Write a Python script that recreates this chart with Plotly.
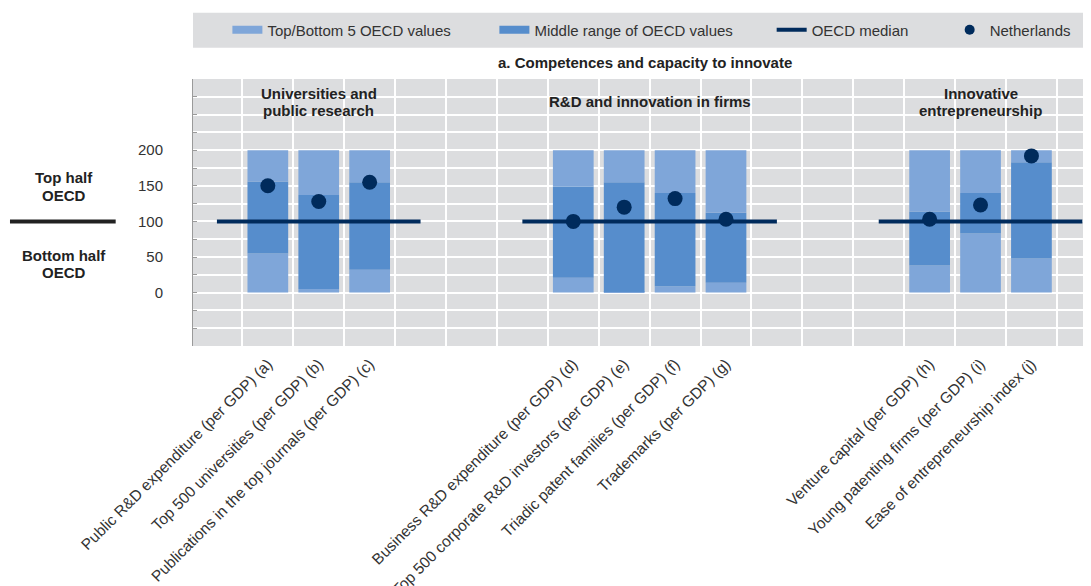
import plotly.graph_objects as go

# ---------------- data ----------------
indicators = [
    "Public R&D expenditure (per GDP) (a)",
    "Top 500 universities (per GDP) (b)",
    "Publications in the top journals (per GDP) (c)",
    "Business R&D expenditure (per GDP) (d)",
    "Top 500 corporate R&D investors (per GDP) (e)",
    "Triadic patent families (per GDP) (f)",
    "Trademarks (per GDP) (g)",
    "Venture capital (per GDP) (h)",
    "Young patenting firms (per GDP) (i)",
    "Ease of entrepreneurship index (j)",
]
group_names = ["Universities and<br>public research",
               "R&D and innovation in firms",
               "Innovative<br>entrepreneurship"]
group_sizes = [3, 4, 3]

scale_min = 0      # bottom of the Top/Bottom 5 range
scale_max = 200    # top of the Top/Bottom 5 range
mid_low = [55, 5, 32, 21, 1, 9, 14, 38, 83, 48]
mid_high = [156, 137, 155, 149, 155, 140, 112, 114, 140, 183]
netherlands = [150, 128, 155, 100, 120, 132, 103, 103, 123, 192]
oecd_median = 100

y_ticks = [0, 50, 100, 150, 200]

# ---------------- styling ----------------
LIGHT = "#7FA6D9"
MID = "#568DCC"
NAVY = "#002B5C"
BG = "#DCDDDF"
TXT = "#222222"
FONT = "Liberation Sans, Arial, sans-serif"
LINE_H = 17.5

GAP = 3
positions, spans = [], []
pos = 1
for size in group_sizes:
    positions.extend(range(pos, pos + size))
    spans.append((pos, pos + size - 1))
    pos += size + GAP

fig = go.Figure()

low_len = [l - scale_min for l in mid_low]
mid_len = [h - l for l, h in zip(mid_low, mid_high)]
top_len = [scale_max - h for h in mid_high]

fig.add_bar(x=positions, y=low_len, base=[scale_min] * len(positions), width=0.8,
            marker=dict(color=LIGHT, line=dict(width=0)), showlegend=False, hoverinfo="skip")
fig.add_bar(x=positions, y=mid_len, base=mid_low, width=0.8,
            marker=dict(color=MID, line=dict(width=0)), showlegend=False, hoverinfo="skip")
fig.add_bar(x=positions, y=top_len, base=mid_high, width=0.8,
            marker=dict(color=LIGHT, line=dict(width=0)), showlegend=False, hoverinfo="skip")

for (s, e) in spans:
    fig.add_trace(go.Scatter(x=[s - 1, e + 1], y=[oecd_median, oecd_median], mode="lines",
                             line=dict(color=NAVY, width=4), showlegend=False, hoverinfo="skip"))

fig.add_trace(go.Scatter(x=positions, y=netherlands, mode="markers",
                         marker=dict(color=NAVY, size=15), showlegend=False))

# legend-only entries
fig.add_trace(go.Scatter(x=[None], y=[None], mode="lines", line=dict(color=LIGHT, width=8),
                         name="Top/Bottom 5 OECD values", legendwidth=222, legend="legend"))
fig.add_trace(go.Scatter(x=[None], y=[None], mode="lines", line=dict(color=MID, width=8),
                         name="Middle range of OECD values", legend="legend"))
fig.add_trace(go.Scatter(x=[None], y=[None], mode="lines", line=dict(color=NAVY, width=4),
                         name="OECD median", legendwidth=133, legend="legend2"))
fig.add_trace(go.Scatter(x=[None], y=[None], mode="markers", marker=dict(color=NAVY, size=10),
                         name="Netherlands", legend="legend2"))


def multiline(text, **kw):
    lines = text.split("<br>")
    n = len(lines)
    out = []
    for i, ln in enumerate(lines):
        shift = ((n - 1) / 2 - i) * LINE_H
        d = dict(kw)
        d.update(text="<b>%s</b>" % ln, yshift=shift, showarrow=False,
                 font=dict(size=15, color=TXT), xanchor="center", yanchor="middle")
        out.append(d)
    return out


annotations = []
for name, (s, e) in zip(group_names, spans):
    annotations += multiline(name, x=(s + e) / 2, y=268, xref="x", yref="y")
annotations += multiline("Top half<br>OECD", x=-0.1431, y=0.597, xref="paper", yref="paper")
annotations += multiline("Bottom half<br>OECD", x=-0.1431, y=0.307, xref="paper", yref="paper")
annotations.append(dict(text="<b>a. Competences and capacity to innovate</b>", x=(644.5 - 193) / 898,
                        y=(346 - 62) / 267, xref="paper", yref="paper", showarrow=False,
                        xanchor="center", yanchor="middle", font=dict(size=15, color=TXT)))

shapes = [
    dict(type="rect", xref="paper", yref="paper", x0=0, x1=1, y0=1.1172, y1=1.2483,
         fillcolor=BG, line=dict(width=0), layer="below"),
    dict(type="line", xref="paper", yref="y", x0=-0.2038, x1=-0.0861, y0=oecd_median, y1=oecd_median,
         line=dict(color=TXT, width=4)),
]

legend_common = dict(orientation="h", xanchor="left", y=1.1835, yanchor="middle",
                     bgcolor="rgba(0,0,0,0)", font=dict(size=15, color="#333333"), traceorder="normal")

fig.update_layout(
    width=1091, height=586, autosize=False,
    margin=dict(l=185, r=8, t=71, b=248, autoexpand=False),
    paper_bgcolor="white", plot_bgcolor=BG,
    font=dict(family=FONT, size=15, color="#333333"),
    barmode="overlay",
    legend=dict(x=0.0383, **legend_common),
    legend2=dict(x=0.6444, **legend_common),
    xaxis=dict(range=[-0.47, 17.17], tickmode="array", tickvals=positions, ticktext=indicators,
               tickangle=-45, showgrid=False, zeroline=False, ticks="", showline=False,
               ticklabelstandoff=5, tickfont=dict(size=15.5, color="#333333"),
               minor=dict(tickmode="linear", tick0=0.5, dtick=1, showgrid=True,
                          gridcolor="white", gridwidth=1.5, ticks="")),
    yaxis=dict(range=[-75, 300], tickmode="array", tickvals=y_ticks, showgrid=True,
               gridcolor="white", gridwidth=1.5, zeroline=False, showline=True,
               linecolor="#9A9A9A", linewidth=1, ticks="inside", ticklen=4, tickcolor="#9A9A9A",
               ticklabelstandoff=26, tickfont=dict(size=15, color="#333333"),
               minor=dict(tickmode="linear", tick0=0, dtick=25, showgrid=True, gridcolor="white",
                          gridwidth=1.5, ticks="inside", ticklen=4, tickcolor="#9A9A9A")),
    annotations=annotations,
    shapes=shapes,
)

fig.write_html("out.html")
